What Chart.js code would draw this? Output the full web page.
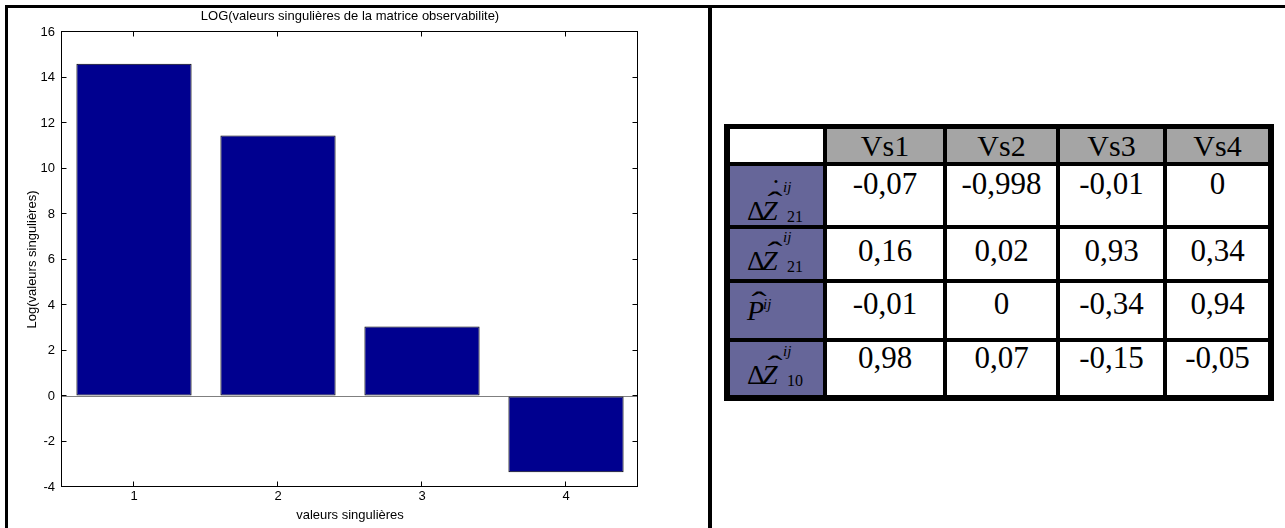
<!DOCTYPE html>
<html>
<head>
<meta charset="utf-8">
<script src="https://cdn.jsdelivr.net/npm/chart.js@4.4.0/dist/chart.umd.min.js"></script>
<style>
html, body { margin: 0; padding: 0; background: #fff; }
body { width: 1285px; height: 528px; position: relative; overflow: hidden; }
#chartBox { position: absolute; left: 0; top: 0; width: 708px; height: 528px; }
.rule { position: absolute; background: #000; z-index: 2; }
#tbl {
  position: absolute; left: 724px; top: 124px;
  background: #000;
  padding: 5px 6px 6px 6px;
  display: grid;
  grid-template-columns: 93px 116px 109px 103px 101px;
  grid-template-rows: 33px 59px 50px 55px 53px;
  gap: 4px;
  font-family: "Liberation Serif", "Times New Roman", serif;
}
#tbl > div { position: relative; background: #fff; text-align: center; overflow: hidden; }
#tbl .head { background: #a5a5a5; font-size: 30px; line-height: 32px; padding-top: 1px; box-sizing: border-box; }
#tbl .corner { background: #fff; }
#tbl .lab { background: #666699; }
#tbl .val { font-size: 31px; line-height: 31px; box-sizing: border-box; }
.m { position: absolute; line-height: 1; white-space: nowrap; color: #000; }
.hat { transform: scaleX(1.5); }
</style>
</head>
<body>
<div id="chartBox"><canvas id="myChart" width="708" height="528"></canvas></div>
<div class="rule" style="left:5px; top:5px; width:1280px; height:3px;"></div>
<div class="rule" style="left:5px; top:5px; width:3px; height:523px;"></div>
<div class="rule" style="left:708px; top:5px; width:4px; height:523px;"></div>
<div id="tbl"></div>
<script>
// bar chart data
const categories = ['1', '2', '3', '4'];
const logValues = [14.6, 11.45, 3.05, -3.35];
const yMin = -4, yMax = 16, yStep = 2;

// table data
const colLabels = ['Vs1', 'Vs2', 'Vs3', 'Vs4'];
const row1Values = ['-0,07', '-0,998', '-0,01', '0'];
const row2Values = ['0,16', '0,02', '0,93', '0,34'];
const row3Values = ['-0,01', '0', '-0,34', '0,94'];
const row4Values = ['0,98', '0,07', '-0,15', '-0,05'];
const rowValues = [row1Values, row2Values, row3Values, row4Values];

// pick a narrow sans if there is one (matlab export looks condensed)
const probe = document.createElement('canvas').getContext('2d');
probe.font = '13px "Liberation Sans Narrow"';
const wNarrow = probe.measureText('valeurs singulières').width;
probe.font = '13px "Liberation Sans"';
const wReg = probe.measureText('valeurs singulières').width;
const narrow = wNarrow < wReg * 0.95;
const fam = narrow ? '"Liberation Sans Narrow", "Arial Narrow", sans-serif' : '"Liberation Sans", Arial, sans-serif';
const fs = narrow ? 13 : 11;
const lh = fs * 1.2;

// box + inward ticks like matlab
const matlabAxes = {
    id: 'matlabAxes',
    afterDatasetsDraw(chart) {
        const { ctx, chartArea: a, scales: { x, y } } = chart;
        const L = Math.round(a.left) - 0.5, R = Math.round(a.right) - 0.5;
        const T = Math.round(a.top) - 0.5, B = Math.round(a.bottom) - 0.5;
        ctx.save();
        ctx.strokeStyle = '#000';
        ctx.lineWidth = 1;
        ctx.beginPath();
        y.ticks.forEach(t => {
            const py = Math.round(y.getPixelForValue(t.value)) - 0.5;
            ctx.moveTo(L, py); ctx.lineTo(L + 5, py);
            ctx.moveTo(R, py); ctx.lineTo(R - 5, py);
        });
        x.ticks.forEach((t, i) => {
            const px = Math.round(x.getPixelForTick(i)) - 0.5;
            ctx.moveTo(px, T); ctx.lineTo(px, T + 5);
            ctx.moveTo(px, B); ctx.lineTo(px, B - 5);
        });
        ctx.stroke();
        ctx.strokeRect(L, T, R - L, B - T);
        ctx.restore();
    }
};

const ctx = document.getElementById('myChart').getContext('2d');
const myChart = new Chart(ctx, {
    type: 'bar',
    data: {
        labels: categories,
        datasets: [{
            data: logValues,
            backgroundColor: '#00008f',
            borderColor: '#000',
            borderWidth: 1,
            borderSkipped: false,
            barPercentage: 0.8,
            categoryPercentage: 1.0
        }]
    },
    options: {
        responsive: false,
        animation: false,
        devicePixelRatio: 1,
        layout: { padding: { left: 0, right: 70, top: 0, bottom: 0 } },
        plugins: {
            legend: { display: false },
            tooltip: { enabled: false },
            title: {
                display: true,
                fullSize: false,
                text: 'LOG(valeurs singulières de la matrice observabilite)',
                color: '#000',
                font: { family: fam, size: fs, weight: 'normal', lineHeight: 1.2 },
                padding: { top: 9, bottom: 32 - 9 - lh }
            }
        },
        scales: {
            x: {
                offset: true,
                grid: { display: false, drawTicks: false },
                border: { display: false },
                ticks: { color: '#000', padding: 2, font: { family: fam, size: fs, lineHeight: 1.2 } },
                title: {
                    display: true,
                    text: 'valeurs singulières',
                    color: '#000',
                    font: { family: fam, size: fs, lineHeight: 1.2 },
                    padding: { top: 0, bottom: 5 }
                },
                afterFit(scale) { scale.height = 41; }
            },
            y: {
                min: yMin,
                max: yMax,
                grid: {
                    drawTicks: false,
                    color: c => (c.tick && c.tick.value === 0) ? '#7f7f7f' : 'rgba(0,0,0,0)'
                },
                border: { display: false },
                ticks: { stepSize: yStep, color: '#000', padding: 7, font: { family: fam, size: fs, lineHeight: 1.2 } },
                title: {
                    display: true,
                    text: 'Log(valeurs singulières)',
                    color: '#000',
                    font: { family: fam, size: fs, lineHeight: 1.2 },
                    padding: { top: 32 - lh / 2, bottom: 0 }
                },
                afterFit(scale) { scale.width = 62; }
            }
        }
    },
    plugins: [matlabAxes]
});

// ---- table ----
const tbl = document.getElementById('tbl');
function cell(cls, html, extra) {
    const d = document.createElement('div');
    d.className = cls;
    if (html) d.innerHTML = html;
    if (extra) d.style.cssText = extra;
    tbl.appendChild(d);
    return d;
}
// text piece placed by its baseline (Liberation Serif, line-height 1)
function put(c, text, size, x, base, italic, center, cls) {
    const s = document.createElement('span');
    s.className = 'm' + (cls ? ' ' + cls : '');
    s.textContent = text;
    s.style.fontSize = size + 'px';
    s.style.top = (base - 0.8375 * size) + 'px';
    if (italic) s.style.fontStyle = 'italic';
    if (center) { s.style.width = '20px'; s.style.textAlign = 'center'; s.style.left = (x - 10) + 'px'; }
    else s.style.left = x + 'px';
    c.appendChild(s);
}
function deltaZ(c, B, sub, withDot) {
    put(c, '\u0394', 28, 17, B, false);
    put(c, 'Z', 28, 32, B, true);
    put(c, '\u02C6', 30, 45, B - 7.8, false, true, 'hat');
    if (withDot) put(c, '\u02D9', 28, 46, B - 22, false, true);
    put(c, 'ij', 15, 53, B - 27, true);
    put(c, sub, 16, 57, B + 2, false);
}

cell('head corner', '');
colLabels.forEach(t => cell('head', t));
const valPad = [2, 6, 5, 0];
rowValues.forEach((vals, r) => {
    const lab = cell('lab', '');
    if (r === 0) deltaZ(lab, 54, '21', true);
    if (r === 1) deltaZ(lab, 41, '21', false);
    if (r === 2) {
        put(lab, 'P', 28, 17, 37, true);
        put(lab, '\u02C6', 30, 29, 37 - 7.8, false, true, 'hat');
        put(lab, 'ij', 15, 33, 27, true);
    }
    if (r === 3) deltaZ(lab, 42, '10', false);
    vals.forEach(v => cell('val', v, 'padding-top:' + valPad[r] + 'px'));
});
</script>
</body>
</html>
